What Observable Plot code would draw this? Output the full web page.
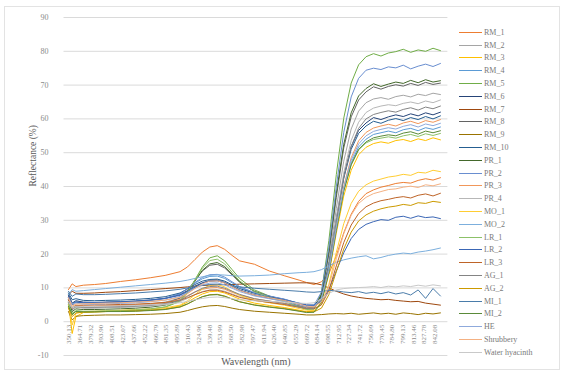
<!DOCTYPE html>
<html>
<head>
<meta charset="utf-8">
<script src="https://cdn.jsdelivr.net/npm/d3@7"></script>
<script src="https://cdn.jsdelivr.net/npm/@observablehq/plot@0.6"></script>
<style>
  html, body { margin: 0; padding: 0; background: #fff; }
  #chart { position: relative; width: 565px; height: 375px; font-family: "Liberation Serif", serif; }
  #frame { position: absolute; left: 4px; top: 6px; width: 556px; height: 364px; border: 1px solid #e3e3e3; box-sizing: border-box; }
  #legend { position: absolute; left: 459px; top: 26px; }
  .item { height: 12.8px; display: flex; align-items: center; font-size: 8px; color: #7a7a7a; white-space: nowrap; }
  .swatch { width: 23px; height: 0; border-top: 1px solid; margin-right: 2px; }
</style>
</head>
<body>
<div id="chart"><div id="frame"></div><div id="legend"></div></div>
<script>
// Sampled wavelengths (nm) shared by every spectrum
const wavelengths = [350, 355, 360, 370, 385, 400, 420, 440, 460, 480, 500, 510, 520, 530, 540, 550, 560, 570, 580, 600, 620, 640, 660, 670, 680, 690, 700, 710, 720, 730, 740, 750, 760, 770, 780, 790, 800, 810, 820, 830, 840, 850];

// Category labels printed along the wavelength axis
const tickLabels = ["350.13", "364.71", "379.32", "393.90", "408.51", "423.07", "437.66", "452.22", "466.79", "481.35", "495.89", "510.43", "524.96", "539.48", "553.99", "568.50", "582.98", "597.47", "611.94", "626.40", "640.85", "655.29", "669.72", "684.14", "698.55", "712.95", "727.34", "741.72", "756.09", "770.45", "784.80", "799.13", "813.46", "827.78", "842.08"];

const yTicks = [-10, 0, 10, 20, 30, 40, 50, 60, 70, 80, 90];

// Reflectance (%) of each sample
const RM_1 = [9.5, 11.2, 10.4, 10.8, 11.0, 11.3, 11.9, 12.4, 13.0, 13.7, 14.8, 16.2, 18.4, 20.6, 22.1, 22.5, 21.4, 19.6, 18.0, 17.0, 15.0, 13.6, 12.3, 11.6, 11.0, 11.8, 14.2, 19.5, 26.3, 31.8, 35.6, 37.9, 39.0, 39.8, 40.3, 40.9, 41.2, 41.0, 41.8, 42.3, 41.9, 42.6];
const RM_2 = [6.0, 4.2, 4.8, 4.6, 4.6, 4.7, 4.8, 5.0, 5.3, 5.8, 7.0, 8.4, 10.0, 11.5, 12.3, 12.5, 11.8, 10.6, 9.4, 7.8, 6.9, 6.0, 4.9, 4.3, 4.4, 7.6, 18.0, 33.5, 47.5, 57.0, 62.3, 64.8, 65.9, 66.3, 65.8, 66.6, 67.0, 66.5, 67.3, 66.9, 67.6, 67.2];
const RM_3 = [5.5, -3.5, 1.5, 2.7, 2.9, 3.0, 3.1, 3.2, 3.4, 3.8, 4.7, 5.8, 7.1, 8.2, 8.9, 9.0, 8.5, 7.6, 6.7, 5.5, 4.8, 4.2, 3.4, 3.0, 3.1, 5.8, 14.0, 26.2, 37.2, 44.8, 49.4, 51.6, 52.7, 53.2, 52.8, 53.6, 53.9, 53.3, 54.1, 53.6, 54.4, 53.8];
const RM_4 = [7.8, 5.3, 5.9, 5.6, 5.6, 5.7, 5.8, 6.0, 6.3, 6.9, 8.3, 9.8, 11.4, 12.7, 13.4, 13.5, 12.8, 11.5, 10.2, 8.5, 7.5, 6.6, 5.3, 4.6, 4.7, 7.1, 15.2, 27.6, 39.0, 47.0, 51.7, 54.0, 55.4, 55.9, 56.4, 55.9, 56.8, 57.2, 56.5, 57.4, 56.9, 57.6];
const RM_5 = [5.5, 2.0, 3.2, 3.0, 3.0, 3.1, 3.2, 3.4, 3.7, 4.3, 6.0, 8.6, 12.4, 16.2, 18.9, 19.5, 18.0, 15.4, 12.8, 9.4, 7.6, 6.3, 4.6, 3.8, 3.9, 8.5, 24.0, 43.5, 60.2, 70.6, 76.0, 78.4, 79.3, 78.6, 79.5, 79.9, 80.6, 79.7, 80.4, 80.0, 80.9, 80.2];
const RM_6 = [8.0, 5.5, 6.2, 5.8, 5.7, 5.8, 5.9, 6.1, 6.4, 6.9, 8.0, 9.2, 10.5, 11.5, 12.0, 12.1, 11.5, 10.4, 9.3, 7.9, 7.0, 6.2, 5.1, 4.5, 4.6, 7.2, 16.5, 30.4, 43.0, 51.8, 56.6, 58.8, 60.4, 59.8, 60.6, 61.2, 60.7, 61.5, 60.9, 61.8, 61.2, 62.0];
const RM_7 = [8.0, 9.0, 8.4, 8.4, 8.5, 8.7, 8.9, 9.2, 9.5, 9.8, 10.1, 10.3, 10.5, 10.7, 10.8, 10.9, 11.0, 11.0, 11.1, 11.2, 11.3, 11.4, 11.5, 11.5, 11.4, 10.9, 10.0, 9.0, 8.2, 7.6, 7.2, 6.9, 6.7, 6.5, 6.6, 6.3, 6.1, 5.9, 6.0, 5.5, 5.2, 4.9];
const RM_8 = [6.5, 3.5, 4.4, 4.1, 4.1, 4.2, 4.3, 4.5, 4.8, 5.4, 7.0, 9.2, 12.2, 15.0, 16.7, 17.0, 15.9, 13.8, 11.7, 9.0, 7.5, 6.3, 4.8, 4.1, 4.2, 7.9, 20.0, 36.8, 51.4, 60.6, 65.6, 68.0, 69.5, 68.8, 69.6, 70.1, 69.7, 70.5, 69.9, 70.8, 70.2, 70.6];
const RM_9 = [3.0, 0.5, 1.6, 1.8, 1.9, 2.0, 2.0, 2.1, 2.2, 2.4, 2.8, 3.3, 3.9, 4.4, 4.7, 4.8, 4.5, 4.0, 3.6, 3.1, 2.8, 2.5, 2.2, 2.0, 2.0, 2.1, 2.3, 2.4, 2.3, 2.5, 2.2, 2.4, 2.6, 2.3, 2.5, 2.2, 2.6, 2.4, 2.1, 2.5, 2.3, 2.6];
const RM_10 = [8.5, 6.5, 6.8, 6.3, 6.2, 6.3, 6.4, 6.6, 6.9, 7.4, 8.5, 9.7, 11.0, 12.0, 12.5, 12.6, 12.0, 10.9, 9.8, 8.4, 7.5, 6.6, 5.4, 4.8, 4.9, 7.4, 16.6, 30.0, 42.4, 51.0, 55.7, 57.9, 59.3, 58.7, 59.6, 60.1, 59.5, 60.4, 59.8, 60.7, 60.0, 60.9];
const PR_1 = [6.0, 3.0, 3.8, 3.6, 3.6, 3.7, 3.8, 4.0, 4.3, 4.9, 6.5, 8.8, 12.0, 15.2, 17.1, 17.5, 16.3, 14.1, 11.8, 8.9, 7.3, 6.1, 4.6, 3.9, 4.0, 8.0, 20.8, 38.0, 52.5, 61.8, 66.8, 69.0, 70.4, 69.6, 70.3, 70.9, 70.5, 71.4, 70.7, 71.6, 70.9, 71.3];
const PR_2 = [7.0, 5.0, 5.7, 5.6, 5.6, 5.7, 5.8, 6.0, 6.3, 6.9, 8.2, 9.8, 11.6, 13.1, 13.9, 14.0, 13.2, 11.8, 10.4, 8.6, 7.6, 6.7, 5.4, 4.7, 4.8, 8.8, 22.0, 40.0, 56.0, 66.5, 72.0, 74.4, 75.0, 74.6, 75.4, 75.1, 75.9, 74.8, 75.6, 76.2, 75.5, 76.4];
const PR_3 = [7.5, 5.0, 4.9, 4.6, 4.6, 4.7, 4.8, 5.0, 5.2, 5.6, 6.6, 7.7, 8.8, 9.6, 10.0, 10.1, 9.6, 8.7, 7.9, 6.8, 6.1, 5.5, 4.5, 4.0, 4.1, 6.5, 15.0, 28.0, 40.0, 48.5, 53.5, 56.0, 57.3, 57.9, 58.4, 57.9, 58.8, 59.3, 58.6, 59.5, 59.0, 59.8];
const PR_4 = [5.5, 3.8, 4.3, 4.1, 4.1, 4.2, 4.3, 4.4, 4.6, 5.0, 5.9, 6.9, 8.0, 8.9, 9.4, 9.5, 9.0, 8.2, 7.4, 6.3, 5.7, 5.1, 4.2, 3.8, 3.9, 6.6, 16.0, 30.5, 44.0, 53.6, 59.0, 61.9, 63.2, 63.8, 64.2, 63.9, 64.6, 65.0, 64.5, 65.3, 64.8, 65.6];
const MO_1 = [5.0, -1.0, 2.5, 3.0, 3.1, 3.2, 3.4, 3.6, 3.8, 4.1, 4.9, 6.2, 8.0, 9.7, 10.8, 11.0, 10.3, 9.0, 7.8, 6.4, 5.6, 4.9, 3.9, 3.4, 3.3, 5.0, 11.0, 20.5, 29.0, 35.0, 38.6, 40.5, 41.6, 42.2, 42.8, 43.1, 43.6, 43.3, 44.2, 44.0, 44.8, 44.4];
const MO_2 = [8.0, 9.5, 9.0, 9.2, 9.5, 9.8, 10.2, 10.6, 11.0, 11.4, 11.9, 12.3, 12.8, 13.3, 13.7, 13.9, 13.8, 13.6, 13.5, 13.6, 13.8, 14.2, 14.5, 14.6, 14.8, 15.4, 16.5, 17.6, 18.3, 18.8, 19.2, 19.5, 18.6, 19.0, 19.6, 20.0, 20.3, 20.1, 20.6, 20.9, 21.3, 21.8];
const LR_1 = [5.0, 2.5, 3.2, 3.1, 3.1, 3.2, 3.3, 3.5, 3.8, 4.4, 6.2, 8.8, 12.3, 15.8, 18.1, 18.5, 17.1, 14.6, 12.1, 8.9, 7.2, 6.0, 4.4, 3.6, 3.7, 6.9, 15.6, 28.0, 39.0, 46.5, 50.8, 52.9, 53.9, 54.3, 54.7, 54.3, 55.0, 55.4, 54.8, 55.6, 55.1, 55.7];
const LR_2 = [7.5, 5.0, 5.8, 5.6, 5.6, 5.7, 5.9, 6.1, 6.4, 6.9, 7.8, 8.9, 10.2, 11.4, 12.1, 12.2, 11.5, 10.4, 9.3, 8.0, 7.2, 6.4, 5.5, 5.0, 4.9, 6.0, 9.5, 15.0, 20.4, 24.6, 27.3, 28.8, 29.6, 30.2, 30.0, 30.9, 31.2, 30.6, 31.3, 30.8, 31.0, 30.5];
const LR_3 = [6.5, 3.8, 4.8, 4.9, 5.0, 5.0, 5.1, 5.2, 5.4, 5.7, 6.3, 7.1, 8.0, 8.8, 9.3, 9.3, 8.8, 8.0, 7.2, 6.3, 5.7, 5.1, 4.3, 3.9, 3.8, 5.0, 9.2, 16.5, 23.4, 28.6, 32.0, 34.0, 35.1, 35.8, 36.2, 36.7, 37.0, 36.6, 37.4, 37.8, 37.2, 38.0];
const AG_1 = [5.8, 4.0, 4.5, 4.3, 4.3, 4.4, 4.5, 4.7, 4.9, 5.3, 6.3, 7.5, 8.8, 9.9, 10.4, 10.5, 9.9, 9.0, 8.1, 6.8, 6.1, 5.4, 4.4, 3.9, 4.0, 6.8, 15.8, 29.6, 42.6, 51.8, 57.2, 60.0, 61.3, 61.9, 62.4, 62.0, 62.8, 63.3, 62.6, 63.5, 63.0, 63.8];
const AG_2 = [4.0, 1.5, 2.6, 2.8, 2.9, 3.0, 3.1, 3.2, 3.4, 3.7, 4.3, 5.2, 6.4, 7.4, 8.0, 8.1, 7.6, 6.7, 5.9, 5.0, 4.4, 3.9, 3.2, 2.9, 2.9, 4.0, 8.0, 14.8, 21.5, 26.5, 29.8, 31.6, 32.7, 33.4, 33.9, 34.2, 34.7, 34.4, 35.2, 35.0, 35.6, 35.3];
const MI_1 = [9.0, 7.5, 8.2, 8.0, 8.0, 8.1, 8.3, 8.5, 8.8, 9.1, 9.6, 10.0, 10.4, 10.8, 11.0, 11.1, 10.9, 10.6, 10.3, 9.9, 9.6, 9.3, 9.0, 8.8, 8.7, 8.9, 9.3, 9.1, 8.8, 8.6, 8.9, 8.4, 8.7, 8.3, 8.8, 8.2, 8.6, 7.9, 9.4, 6.9, 9.8, 7.6];
const MI_2 = [4.5, 2.2, 3.0, 2.9, 2.9, 3.0, 3.0, 3.1, 3.3, 3.6, 4.4, 5.3, 6.4, 7.4, 7.9, 8.0, 7.5, 6.7, 5.9, 4.9, 4.3, 3.8, 3.1, 2.7, 2.8, 5.6, 14.4, 27.0, 38.6, 46.4, 51.0, 53.2, 54.4, 54.9, 55.3, 55.0, 55.8, 56.2, 55.5, 56.4, 55.9, 56.5];
const HE = [7.0, 5.2, 5.5, 5.2, 5.2, 5.3, 5.4, 5.6, 5.9, 6.4, 7.5, 8.7, 9.9, 10.9, 11.4, 11.5, 10.9, 9.9, 8.9, 7.6, 6.8, 6.0, 4.9, 4.4, 4.5, 6.9, 15.2, 28.0, 39.6, 47.8, 52.6, 55.0, 56.3, 56.9, 57.4, 57.0, 57.8, 58.3, 57.6, 58.5, 58.0, 58.7];
const Shrubbery = [7.0, 4.5, 5.2, 5.3, 5.4, 5.5, 5.6, 5.8, 6.0, 6.4, 7.2, 8.3, 9.8, 11.2, 12.0, 12.1, 11.4, 10.3, 9.2, 7.9, 7.1, 6.3, 5.2, 4.6, 4.4, 5.8, 10.5, 18.6, 26.0, 31.5, 35.0, 36.8, 37.9, 38.5, 39.1, 39.3, 39.8, 40.1, 39.7, 40.5, 40.2, 40.8];
const Water_hyacinth = [6.0, 4.0, 4.6, 4.5, 4.5, 4.6, 4.7, 4.8, 5.0, 5.2, 5.6, 6.0, 6.5, 6.9, 7.2, 7.3, 7.1, 6.8, 6.5, 6.2, 6.0, 5.8, 5.5, 5.4, 5.6, 6.8, 8.4, 9.4, 9.8, 10.0, 10.1, 10.2, 10.4, 10.1, 10.5, 10.3, 10.6, 10.4, 10.8, 10.5, 10.9, 10.6];

const seriesNames = ["RM_1", "RM_2", "RM_3", "RM_4", "RM_5", "RM_6", "RM_7", "RM_8", "RM_9", "RM_10", "PR_1", "PR_2", "PR_3", "PR_4", "MO_1", "MO_2", "LR_1", "LR_2", "LR_3", "AG_1", "AG_2", "MI_1", "MI_2", "HE", "Shrubbery", "Water hyacinth"];
const seriesValues = [RM_1, RM_2, RM_3, RM_4, RM_5, RM_6, RM_7, RM_8, RM_9, RM_10, PR_1, PR_2, PR_3, PR_4, MO_1, MO_2, LR_1, LR_2, LR_3, AG_1, AG_2, MI_1, MI_2, HE, Shrubbery, Water_hyacinth];
const seriesColors = ["#ED7D31", "#A5A5A5", "#FFC000", "#5B9BD5", "#70AD47", "#264478", "#9E480E", "#636363", "#997300", "#255E91", "#43682B", "#698ED0", "#F1975A", "#B7B7B7", "#FFCD33", "#7CAFDD", "#8CC168", "#3A66B5", "#BE6428", "#848484", "#CC9A00", "#4A7CAA", "#5A8A39", "#8FAADC", "#F4B183", "#C9C9C9"];

// Long table: one row per (sample, wavelength)
const rows = seriesNames.flatMap((name, i) =>
  seriesValues[i].map((v, j) => ({series: name, wavelength: wavelengths[j], value: v}))
);

const plot = Plot.plot({
  width: 565,
  height: 375,
  marginLeft: 63.5,
  marginRight: 117.6,
  marginTop: 17,
  marginBottom: 20,
  style: {fontFamily: "'Liberation Serif', serif", background: "transparent", color: "#8a8a8a"},
  x: {type: "linear", domain: [344, 860], axis: null},
  y: {domain: [-10, 90], axis: null},
  color: {domain: seriesNames, range: seriesColors},
  marks: [
    Plot.ruleY(yTicks, {stroke: "#dadada", strokeWidth: 1}),
    Plot.text(yTicks, {y: d => d, text: d => String(d), frameAnchor: "left", dx: -15.5, textAnchor: "end", fontSize: 8, fill: "#8a8a8a"}),
    Plot.text(["Reflectance (%)"], {frameAnchor: "left", rotate: -90, dx: -31, fontSize: 9.5, fill: "#595959"}),
    Plot.line(rows, {x: "wavelength", y: "value", z: "series", stroke: "series", strokeWidth: 1}),
    Plot.text(tickLabels, {x: d => +d, y: 0, text: d => d, rotate: -90, textAnchor: "end", dy: 3, fontSize: 7, fill: "#8a8a8a"}),
    Plot.text(["Wavelength (nm)"], {frameAnchor: "bottom", dy: 9, fontSize: 10, fill: "#595959"})
  ]
});
document.getElementById("chart").appendChild(plot);
plot.style.position = "absolute";
plot.style.left = "0";
plot.style.top = "0";

// Legend column on the right
const legend = d3.select("#legend");
seriesNames.forEach((name, i) => {
  const item = legend.append("div").attr("class", "item");
  item.append("span").attr("class", "swatch").style("border-top-color", seriesColors[i]);
  item.append("span").text(name);
});
</script>
</body>
</html>
